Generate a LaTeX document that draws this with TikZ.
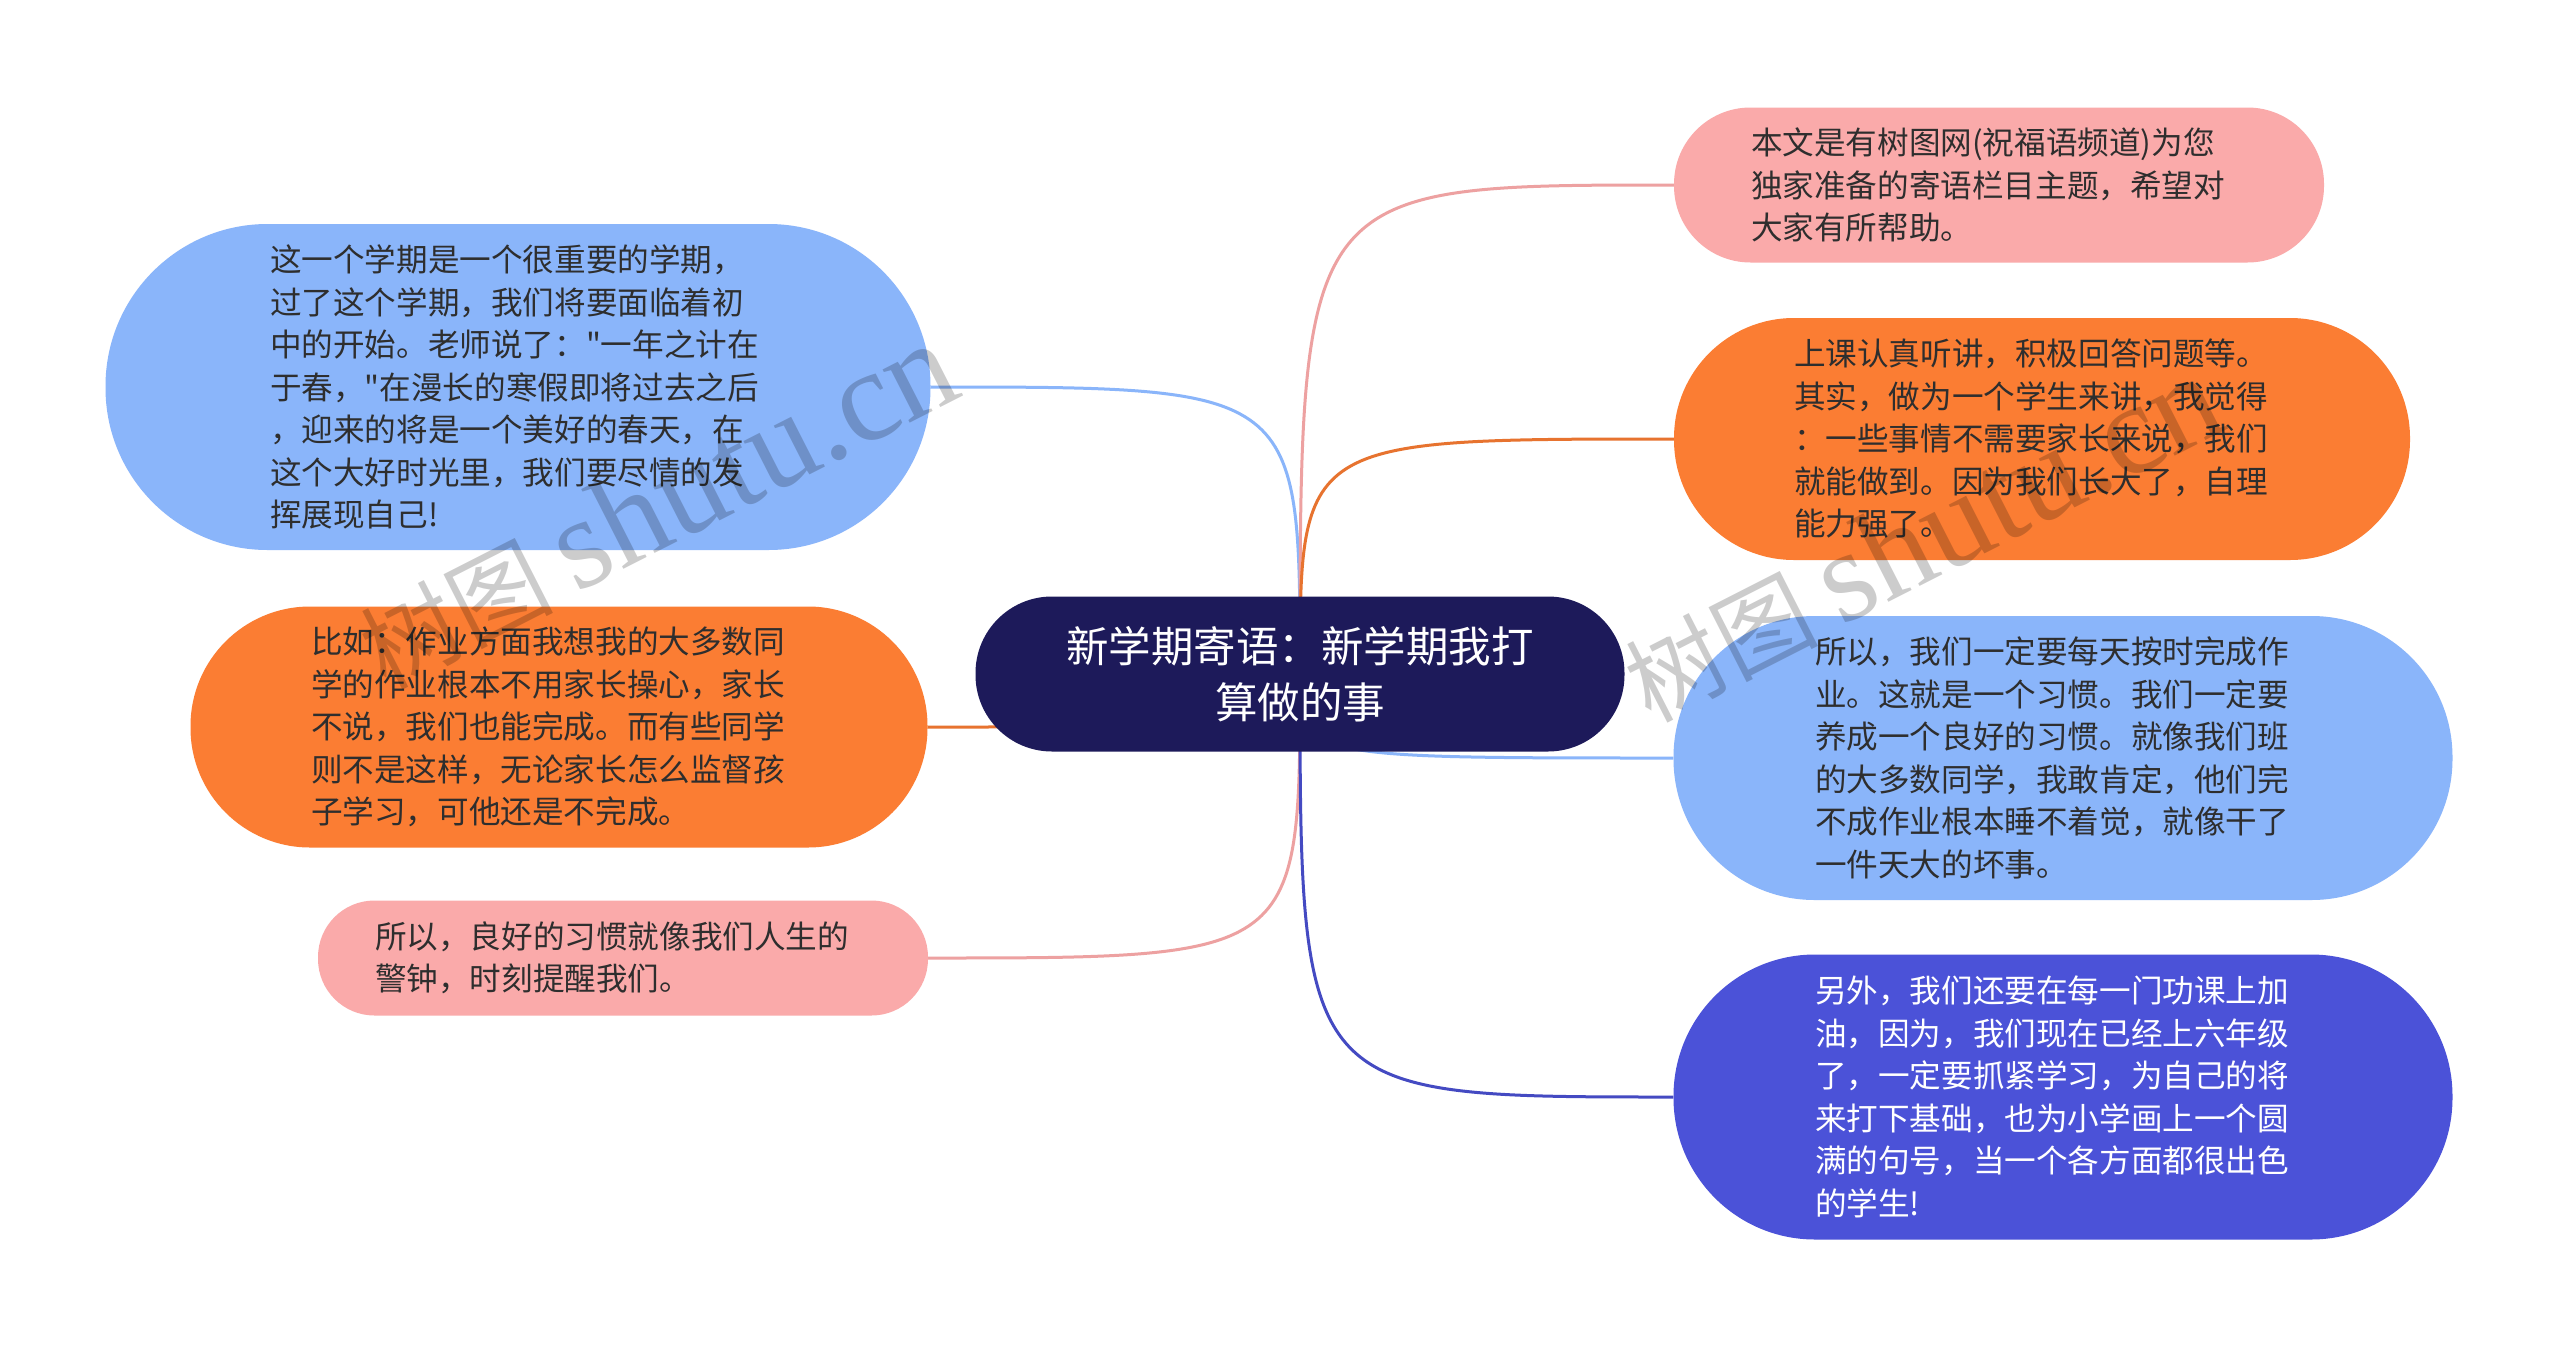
\documentclass[tikz,border=0pt]{standalone}
\usepackage{fontspec}
\setmainfont{Noto Sans CJK SC}
\newfontfamily\markserif{Liberation Serif}
\usepackage{tikz}
\usetikzlibrary{backgrounds}

\definecolor{rootnavy}{HTML}{1D1A5A}
\definecolor{leafblue}{HTML}{8AB5FA}
\definecolor{leaforange}{HTML}{FB7D33}
\definecolor{leafpink}{HTML}{FAAAAA}
\definecolor{leafindigo}{HTML}{4B52D8}
\definecolor{leaftext}{HTML}{2E2E2E}

\begin{document}
\begin{tikzpicture}[x=1pt, y=-1pt,
boxsize/.style 2 args={minimum width=#1, minimum height=#2, rounded corners=#2/2-1pt},
box/.style={inner sep=0pt, text width=496pt, align=left, text=leaftext,
            font=\fontsize{31.6pt}{42.5pt}\selectfont},
rootbox/.style={box, fill=rootnavy, text=white, text width=520pt, align=center,
            font=\fontsize{42.5pt}{56pt}\selectfont},
blueleaf/.style={box, fill=leafblue},
orangeleaf/.style={box, fill=leaforange},
pinkleaf/.style={box, fill=leafpink},
indigoleaf/.style={box, fill=leafindigo, text=white},
link/.style={line width=3pt},
watermark/.style={rotate=27, text=black, text opacity=0.2,
            font=\fontsize{96pt}{96pt}\selectfont}
]
\useasboundingbox (0,0) rectangle (2560,1347);

% centre topic
\node[rootbox, boxsize={649pt}{155pt}] (root) at (1300,674)
{新学期寄语：新学期我打\\算做的事};

% left branches
\node[blueleaf, boxsize={825pt}{326pt}] (newterm) at (518,387)
{这一个学期是一个很重要的学期，\\过了这个学期，我们将要面临着初\\中的开始。老师说了：\textquotedbl 一年之计在\\于春，\textquotedbl 在漫长的寒假即将过去之后\\，迎来的将是一个美好的春天，在\\这个大好时光里，我们要尽情的发\\挥展现自己!};
\node[orangeleaf, boxsize={737pt}{241pt}] (homework) at (559,727)
{比如：作业方面我想我的大多数同\\学的作业根本不用家长操心，家长\\不说，我们也能完成。而有些同学\\则不是这样，无论家长怎么监督孩\\子学习，可他还是不完成。};
\node[pinkleaf, boxsize={610pt}{115pt}] (alarm) at (623,958)
{所以，良好的习惯就像我们人生的\\警钟，时刻提醒我们。};

% right branches
\node[pinkleaf, boxsize={650pt}{155pt}] (wishes) at (1999,185)
{本文是有树图网(祝福语频道)为您\\独家准备的寄语栏目主题，希望对\\大家有所帮助。};
\node[orangeleaf, boxsize={736pt}{242pt}] (listen) at (2042,439)
{上课认真听讲，积极回答问题等。\\其实，做为一个学生来讲，我觉得\\：一些事情不需要家长来说，我们\\就能做到。因为我们长大了，自理\\能力强了。};
\node[blueleaf, boxsize={779pt}{284pt}] (habit) at (2063,758)
{所以，我们一定要每天按时完成作\\业。这就是一个习惯。我们一定要\\养成一个良好的习惯。就像我们班\\的大多数同学，我敢肯定，他们完\\不成作业根本睡不着觉，就像干了\\一件天大的坏事。};
\node[indigoleaf, boxsize={779pt}{285pt}] (effort) at (2063,1097)
{另外，我们还要在每一门功课上加\\油，因为，我们现在已经上六年级\\了，一定要抓紧学习，为自己的将\\来打下基础，也为小学画上一个圆\\满的句号，当一个各方面都很出色\\的学生!};

\begin{scope}[on background layer]
\fill[white] (0,0) rectangle (2560,1347);
\draw[link, leafblue] (root.center) .. controls (root.center |- newterm.east) .. (newterm.east);
\draw[link, leaforange!92!black] (root.center) .. controls (root.center |- homework.east) .. (homework.east);
\draw[link, leafpink!95!black] (root.center) .. controls (root.center |- alarm.east) .. (alarm.east);
\draw[link, leafpink!95!black] (root.center) .. controls (root.center |- wishes.west) .. (wishes.west);
\draw[link, leaforange!92!black] (root.center) .. controls (root.center |- listen.west) .. (listen.west);
\draw[link, leafblue] (root.center) .. controls (root.center |- habit.west) .. (habit.west);
\draw[link, leafindigo!90!black] (root.center) .. controls (root.center |- effort.west) .. (effort.west);
\end{scope}

% site marks
\node[watermark] (mark1) at (657,506) {树图 {\markserif\fontsize{130pt}{130pt}\selectfont shutu.cn}};
\node[watermark] (mark2) at (1922,539) {树图 {\markserif\fontsize{130pt}{130pt}\selectfont shutu.cn}};
\end{tikzpicture}
\end{document}
